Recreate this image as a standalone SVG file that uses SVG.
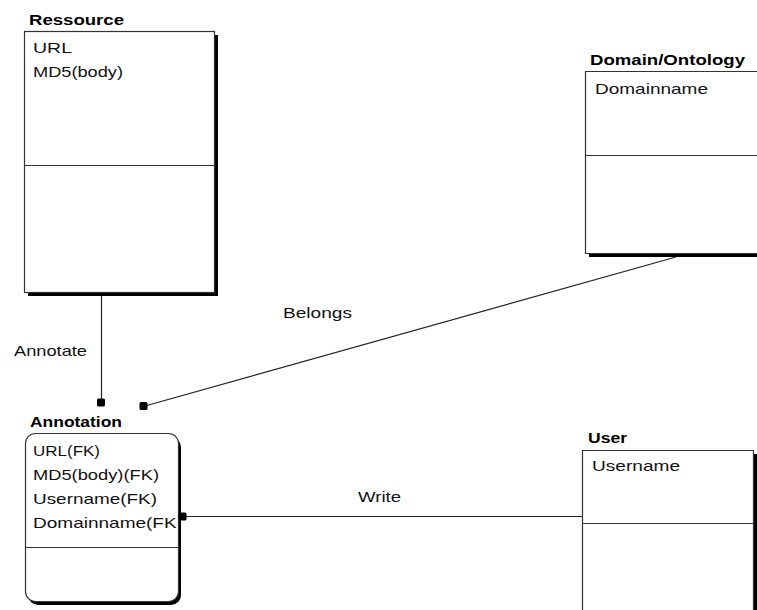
<svg xmlns="http://www.w3.org/2000/svg" width="757" height="610" viewBox="0 0 757 610">
  <style>
    .title { font-family: "Liberation Sans", Arial, sans-serif; font-size: 14px; font-weight: bold; fill: #000; }
    .attr { font-family: "Liberation Sans", Arial, sans-serif; font-size: 15px; fill: #111; }
    .label { font-family: "Liberation Sans", Arial, sans-serif; font-size: 15px; fill: #111; }
    .edge { fill: none; stroke: #333; stroke-width: 1.2; }
    .box { fill: #fff; stroke: #333; stroke-width: 1.2; }
    .shadow { fill: none; stroke: #000; stroke-width: 3; }
    .conn { fill: none; stroke: #222; stroke-width: 1.2; }
    .end { fill: #000; }
  </style>
  <defs>
    <clipPath id="annClip">
      <rect x="25" y="433" width="151" height="169"/>
    </clipPath>
  </defs>
  <rect width="757" height="610" fill="#fff"/>

  <!-- Ressource entity -->
  <g id="ressource">
    <text class="title" x="29" y="25" textLength="95" lengthAdjust="spacingAndGlyphs">Ressource</text>
    <path class="shadow" d="M28 294.5 H216.5 V35"/>
    <rect class="box" x="24.5" y="31.5" width="190" height="261"/>
    <line class="edge" x1="24.5" y1="165.5" x2="214.5" y2="165.5"/>
    <text class="attr" x="33" y="53" textLength="39" lengthAdjust="spacingAndGlyphs">URL</text>
    <text class="attr" x="33" y="77" textLength="90" lengthAdjust="spacingAndGlyphs">MD5(body)</text>
  </g>

  <!-- Domain/Ontology entity -->
  <g id="domain">
    <text class="title" x="590" y="65" textLength="155" lengthAdjust="spacingAndGlyphs">Domain/Ontology</text>
    <line class="shadow" x1="589" y1="255.5" x2="757" y2="255.5"/>
    <path class="box" d="M757 71.5 H585.5 V253.5 H757"/>
    <line class="edge" x1="585.5" y1="155.5" x2="757" y2="155.5"/>
    <text class="attr" x="595" y="94" textLength="113" lengthAdjust="spacingAndGlyphs">Domainname</text>
  </g>

  <!-- Annotation entity -->
  <g id="annotation">
    <text class="title" x="30" y="427" textLength="92" lengthAdjust="spacingAndGlyphs">Annotation</text>
    <rect x="28" y="437" width="153" height="168" rx="10" fill="#000"/>
    <rect class="box" x="25.5" y="433.5" width="153" height="168" rx="10"/>
    <line class="edge" x1="25.5" y1="547.5" x2="178.5" y2="547.5"/>
    <g clip-path="url(#annClip)">
      <text class="attr" x="33" y="456" textLength="67" lengthAdjust="spacingAndGlyphs">URL(FK)</text>
      <text class="attr" x="33" y="480" textLength="126" lengthAdjust="spacingAndGlyphs">MD5(body)(FK)</text>
      <text class="attr" x="33" y="504" textLength="124" lengthAdjust="spacingAndGlyphs">Username(FK)</text>
      <text class="attr" x="33" y="528" textLength="150" lengthAdjust="spacingAndGlyphs">Domainname(FK)</text>
    </g>
  </g>

  <!-- User entity -->
  <g id="user">
    <text class="title" x="588" y="443" textLength="39" lengthAdjust="spacingAndGlyphs">User</text>
    <line class="shadow" x1="755.5" y1="454" x2="755.5" y2="610"/>
    <path class="box" d="M582.5 610 V450.5 H753.5 V610"/>
    <line class="edge" x1="582.5" y1="523.5" x2="753.5" y2="523.5"/>
    <text class="attr" x="592" y="471" textLength="88" lengthAdjust="spacingAndGlyphs">Username</text>
  </g>

  <!-- Relationships -->
  <g id="connectors">
    <line class="conn" x1="101.5" y1="296" x2="101.5" y2="401"/>
    <rect class="end" x="97" y="398.5" width="8" height="8" rx="1.5"/>
    <text class="label" x="14" y="356" textLength="73" lengthAdjust="spacingAndGlyphs">Annotate</text>

    <line class="conn" x1="676" y1="257" x2="145" y2="406"/>
    <rect class="end" x="139.5" y="402" width="8" height="8" rx="1.5"/>
    <text class="label" x="283" y="318" textLength="69" lengthAdjust="spacingAndGlyphs">Belongs</text>

    <line class="conn" x1="582" y1="516.5" x2="182" y2="516.5"/>
    <rect class="end" x="178.5" y="512.5" width="8" height="8" rx="1.5"/>
    <text class="label" x="358" y="502" textLength="43" lengthAdjust="spacingAndGlyphs">Write</text>
  </g>
</svg>
